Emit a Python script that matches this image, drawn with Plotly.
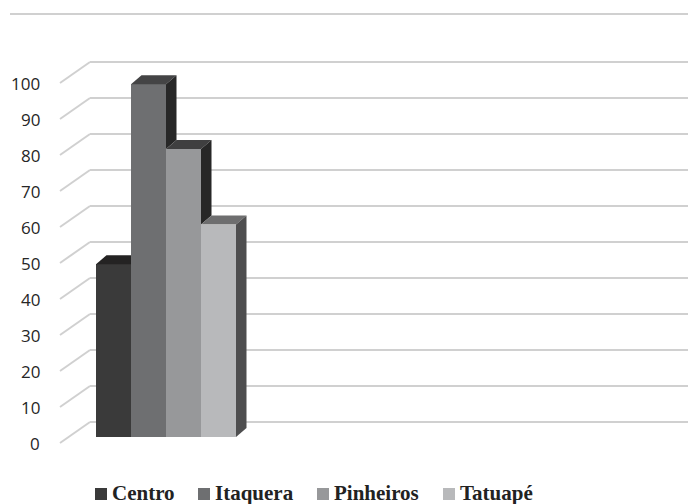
import plotly.graph_objects as go

# ---- data ----
categories = ["Centro", "Itaquera", "Pinheiros", "Tatuapé"]
values = [48, 98, 80, 59]
tick_values = [0, 10, 20, 30, 40, 50, 60, 70, 80, 90, 100]

# ---- styling ----
front_colors = ["#3a3a3a", "#6e6f71", "#97989a", "#b8b9bb"]
top_colors = ["#242323", "#444445", "#3f3f40", "#6e6e6f"]
side_colors = ["#262626", "#272727", "#272727", "#4e4e4f"]
grid_color = "#d0d0d0"

W, H = 688, 504
PX_Y = 3.6            # pixels per value unit
BASE_PX = 437         # pixel row of the bar baseline
BAR_PX = 35.0         # bar width in pixels (1 x-unit)
X0_PX = 113.5         # pixel column of the first bar centre

def xu(px):
    return (px - X0_PX) / BAR_PX

# depth of each bar (x-units, value units)
DX, DY = 10.5 / BAR_PX, 9 / PX_Y
# wall geometry: front edge / back wall offsets in value units
FRONT_OFF, BACK_OFF = -6 / PX_Y, 15 / PX_Y
WALL_FRONT_X, WALL_BACK_X = xu(60), xu(90)

x_range = [xu(0), xu(W)]
y_range = [-(H - BASE_PX) / PX_Y, BASE_PX / PX_Y]

fig = go.Figure()

# front faces
xs = list(range(len(categories)))
fig.add_trace(go.Bar(
    x=xs, y=values, width=1, marker=dict(color=front_colors, line=dict(width=0)),
    hovertext=categories, hoverinfo="text+y", showlegend=False,
))

n = len(values)
for i, v in enumerate(values):
    l, r = i - 0.5, i + 0.5
    nxt = values[i + 1] if i + 1 < n else None
    # top face (clipped where the next, taller bar hides it)
    if nxt is not None and nxt > v:
        tx = [l, r, r, l + DX, l]
        ty = [v, v, v + DY, v + DY, v]
    else:
        tx = [l, r, r + DX, l + DX, l]
        ty = [v, v, v + DY, v + DY, v]
    fig.add_trace(go.Scatter(
        x=tx, y=ty, mode="lines", fill="toself", fillcolor=top_colors[i],
        line=dict(width=0), hoverinfo="skip", showlegend=False,
    ))
    # right side face (only the part not hidden by the next bar)
    low = 0 if nxt is None else nxt
    if v > low:
        sx = [r, r, r + DX, r + DX, r]
        sy = [low, v, v + DY, low + DY, low]
        fig.add_trace(go.Scatter(
            x=sx, y=sy, mode="lines", fill="toself", fillcolor=side_colors[i],
            line=dict(width=0), hoverinfo="skip", showlegend=False,
        ))

# perspective gridlines: front edge -> back wall -> right
shapes = []
for t in tick_values:
    shapes.append(dict(type="line", xref="x", yref="y", layer="below",
                       x0=WALL_FRONT_X, y0=t + FRONT_OFF, x1=WALL_BACK_X, y1=t + BACK_OFF,
                       line=dict(color=grid_color, width=2)))
    shapes.append(dict(type="line", xref="x", yref="y", layer="below",
                       x0=WALL_BACK_X, y0=t + BACK_OFF, x1=x_range[1], y1=t + BACK_OFF,
                       line=dict(color=grid_color, width=2)))
# top rule of the chart area
shapes.append(dict(type="line", xref="paper", yref="paper", layer="below",
                   x0=10 / W, x1=1, y0=1 - 14 / H, y1=1 - 14 / H,
                   line=dict(color=grid_color, width=2)))

annotations = []
for t in tick_values:
    annotations.append(dict(x=xu(42), y=t + FRONT_OFF, xref="x", yref="y",
                            text=str(t), showarrow=False, xanchor="right", yanchor="middle",
                            font=dict(family="Open Sans", size=17, color="#262626")))

# legend row
legend_left = [95, 198, 317, 443]
leg_y = 1 - 494 / H
for name, col, lx in zip(categories, front_colors, legend_left):
    shapes.append(dict(type="rect", xref="paper", yref="paper",
                       x0=lx / W, x1=(lx + 12) / W, y0=leg_y - 6 / H, y1=leg_y + 6 / H,
                       fillcolor=col, line=dict(width=0)))
    annotations.append(dict(x=(lx + 15) / W, y=1 - 493 / H, xref="paper", yref="paper",
                            text=f"<b>{name}</b>", showarrow=False, xanchor="left", yanchor="middle",
                            font=dict(family="Liberation Serif", size=21, color="#222222")))

fig.update_layout(
    width=W, height=H,
    margin=dict(l=0, r=0, t=0, b=0),
    paper_bgcolor="white", plot_bgcolor="white",
    xaxis=dict(range=x_range, visible=False, fixedrange=True),
    yaxis=dict(range=y_range, visible=False, fixedrange=True),
    bargap=0, shapes=shapes, annotations=annotations, showlegend=False,
)

fig.write_html("out.html")
